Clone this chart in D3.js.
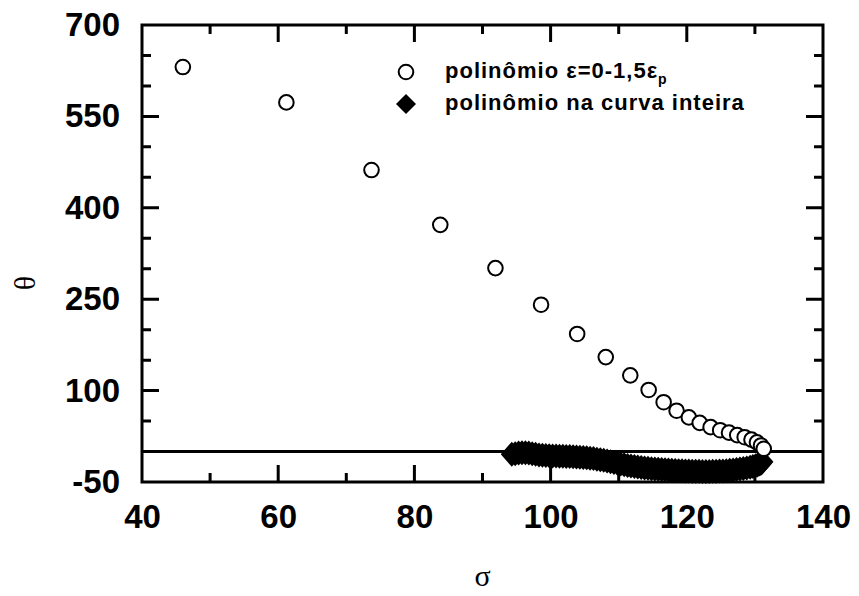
<!DOCTYPE html>
<html>
<head>
<meta charset="utf-8">
<script src="https://cdn.jsdelivr.net/npm/d3@7"></script>
<style>
  body { margin: 0; background: #fff; }
  svg { display: block; }
</style>
</head>
<body>
<svg id="chart" width="859" height="596"></svg>
<script>
// Axis ticks
const xMajor = [40, 60, 80, 100, 120, 140];
const xMinor = [50, 70, 90, 110, 130];
const yMajor = [-50, 100, 250, 400, 550, 700];
const yMinor = [0, 50, 150, 200, 300, 350, 450, 500, 600, 650];

// Series 1: polynomial fitted on ε = 0 – 1,5 εp (open circles)
const circleSigma = [46.0, 61.2, 73.7, 83.8, 91.9, 98.6, 103.9, 108.1, 111.7, 114.4,
                     116.6, 118.5, 120.3, 121.9, 123.5, 124.9, 126.2, 127.4, 128.5, 129.5,
                     130.3, 130.9, 131.3];
const circleTheta = [631, 573, 462, 372, 301, 241, 193, 155, 125, 101,
                     81, 67, 56, 47, 40, 35, 31, 27, 23.5, 19.5,
                     15, 10, 4.5];

// Series 2: polynomial fitted on the whole curve (filled diamonds)
const diamondSigma = [94.3, 94.8, 95.3, 95.8, 96.3, 96.8, 97.3, 97.8, 98.3, 98.8,
                      99.3, 99.8, 100.3, 100.8, 101.3, 101.8, 102.3, 102.8, 103.3, 103.8,
                      104.3, 104.8, 105.3, 105.8, 106.3, 106.8, 107.3, 107.8, 108.3, 108.8,
                      109.3, 109.8, 110.3, 110.8, 111.3, 111.8, 112.3, 112.8, 113.3, 113.8,
                      114.3, 114.8, 115.3, 115.8, 116.3, 116.8, 117.3, 117.8, 118.3, 118.8,
                      119.3, 119.8, 120.3, 120.8, 121.3, 121.8, 122.3, 122.8, 123.3, 123.8,
                      124.3, 124.8, 125.3, 125.8, 126.3, 126.8, 127.3, 127.8, 128.3, 128.8,
                      129.3, 129.7, 130.1, 130.4, 130.7, 130.9, 131.0, 131.1];
const diamondTheta = [-4.5, -3.5, -2.5, -2.0, -2.0, -2.5, -3.5, -4.5, -5.5, -6.0,
                      -6.5, -7.0, -7.3, -7.5, -7.7, -7.9, -8.1, -8.3, -8.6, -8.9,
                      -9.3, -9.8, -10.3, -10.9, -11.6, -12.5, -13.4, -14.5, -15.6, -16.8,
                      -18.0, -19.3, -20.5, -21.7, -22.8, -23.8, -24.7, -25.5, -26.2, -26.9,
                      -27.5, -28.1, -28.6, -29.1, -29.6, -30.0, -30.4, -30.8, -31.1, -31.4,
                      -31.7, -31.9, -32.1, -32.3, -32.4, -32.5, -32.6, -32.6, -32.6, -32.5,
                      -32.3, -32.1, -31.8, -31.4, -30.9, -30.3, -29.6, -28.8, -27.9, -26.9,
                      -25.8, -24.6, -23.3, -22.0, -20.6, -19.3, -18.0, -16.8];

const svg = d3.select("#chart");
const plotLeft = 142, plotRight = 823, plotTop = 25, plotBottom = 482;

const x = d3.scaleLinear().domain([40, 140]).range([plotLeft, plotRight]);
const y = d3.scaleLinear().domain([-50, 700]).range([plotBottom, plotTop]);

const majorLen = 17, minorLen = 9;
const labelFont = "'Liberation Sans', Arial, sans-serif";

// Tick labels
function labelAxis(axis, tx, ty) {
  const g = svg.append("g").attr("transform", `translate(${tx},${ty})`).call(axis);
  g.select(".domain").remove();
  g.selectAll(".tick line").remove();
  g.selectAll(".tick text")
    .attr("fill", "#000")
    .style("font-family", labelFont)
    .style("font-weight", "bold")
    .style("font-size", "33px");
}
labelAxis(d3.axisBottom(x).tickValues(xMajor).tickSize(0).tickPadding(23).tickFormat(d => String(d)), 0, plotBottom);
labelAxis(d3.axisLeft(y).tickValues(yMajor).tickSize(0).tickPadding(22).tickFormat(d => String(d)), plotLeft, 0);

// zero line
svg.append("line")
  .attr("x1", plotLeft).attr("x2", plotRight)
  .attr("y1", y(0)).attr("y2", y(0))
  .attr("stroke", "#000").attr("stroke-width", 3);

// diamond marker path
function diamondPath(w, h) {
  return `M0,${-h}L${w},0L0,${h}L${-w},0Z`;
}

// filled diamonds
svg.append("g").selectAll("path")
  .data(d3.zip(diamondSigma, diamondTheta))
  .join("path")
  .attr("d", diamondPath(11, 12.5))
  .attr("transform", d => `translate(${x(d[0])},${y(d[1])})`)
  .attr("fill", "#000");

// open circles
svg.append("g").selectAll("circle")
  .data(d3.zip(circleSigma, circleTheta))
  .join("circle")
  .attr("cx", d => x(d[0]))
  .attr("cy", d => y(d[1]))
  .attr("r", 7.3)
  .attr("fill", "#fff")
  .attr("stroke", "#000")
  .attr("stroke-width", 2);

// frame and inward tick marks on all four edges, as one stroked path
const frame = d3.path();
frame.rect(plotLeft, plotTop, plotRight - plotLeft, plotBottom - plotTop);
const xTicks = xMajor.map(v => [v, majorLen]).concat(xMinor.map(v => [v, minorLen]));
const yTicks = yMajor.map(v => [v, majorLen]).concat(yMinor.map(v => [v, minorLen]));
for (const [v, len] of xTicks) {
  frame.moveTo(x(v), plotBottom); frame.lineTo(x(v), plotBottom - len);
  frame.moveTo(x(v), plotTop);    frame.lineTo(x(v), plotTop + len);
}
for (const [v, len] of yTicks) {
  frame.moveTo(plotLeft, y(v));  frame.lineTo(plotLeft + len, y(v));
  frame.moveTo(plotRight, y(v)); frame.lineTo(plotRight - len, y(v));
}
svg.append("path")
  .attr("d", frame.toString())
  .attr("fill", "none")
  .attr("stroke", "#000")
  .attr("stroke-width", 3);

// axis titles
svg.append("text")
  .attr("transform", "translate(24,283) rotate(-90)")
  .attr("text-anchor", "middle")
  .attr("dy", "0.35em")
  .style("font-family", "'Liberation Serif', 'Times New Roman', serif")
  .style("font-size", "30px")
  .text("θ");
svg.append("text")
  .attr("x", (plotLeft + plotRight) / 2)
  .attr("y", 586)
  .attr("text-anchor", "middle")
  .style("font-family", "'Liberation Serif', 'Times New Roman', serif")
  .style("font-size", "30px")
  .text("σ");

// legend
const legend = svg.append("g");
const legendFont = "font-family:'Liberation Sans',Arial,sans-serif;font-weight:bold;font-size:22px;letter-spacing:1px";
legend.append("circle")
  .attr("cx", 406).attr("cy", 72).attr("r", 7.3)
  .attr("fill", "#fff").attr("stroke", "#000").attr("stroke-width", 2);
const t1 = legend.append("text").attr("x", 445).attr("y", 78).attr("style", legendFont);
t1.append("tspan").text("polinômio ε=0-1,5ε");
t1.append("tspan").attr("dy", 6).style("font-size", "14px").text("p");

legend.append("path")
  .attr("d", diamondPath(10, 10))
  .attr("transform", "translate(406,104)")
  .attr("fill", "#000");
legend.append("text").attr("x", 445).attr("y", 110).attr("style", legendFont)
  .text("polinômio na curva inteira");
</script>
</body>
</html>
